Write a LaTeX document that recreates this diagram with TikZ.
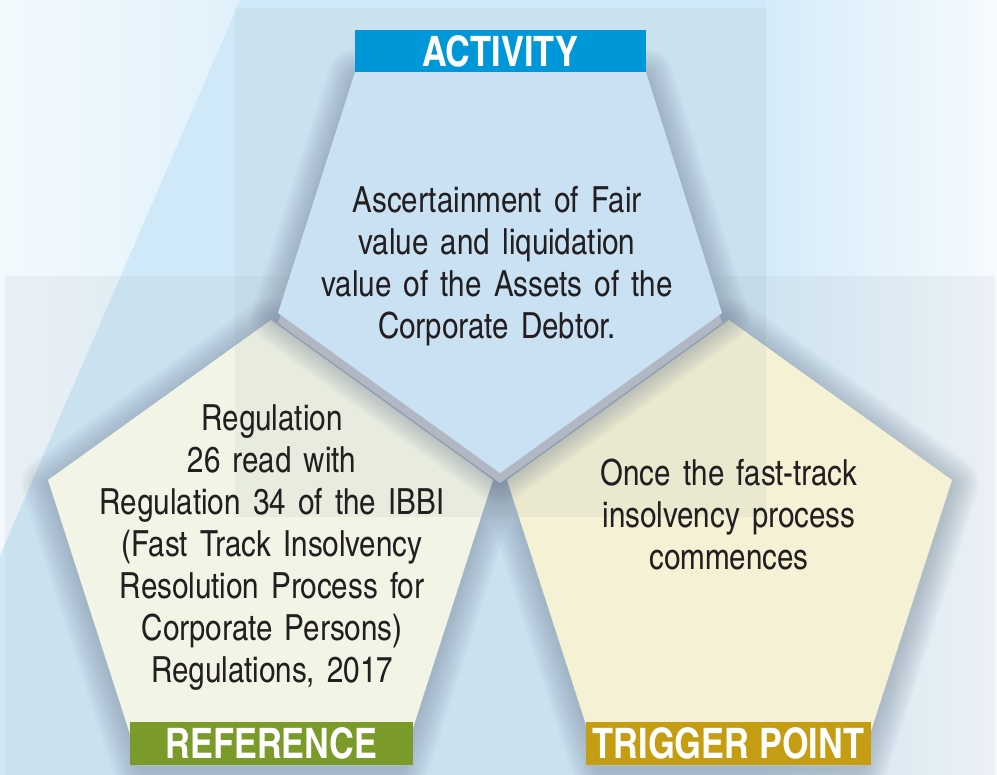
\documentclass[tikz,border=0pt]{standalone}
\usepackage{fontspec}
\setmainfont{texgyreheroscn}[Extension=.otf,UprightFont=*-regular,BoldFont=*-bold]
\newfontfamily\bodyfont{texgyreheroscn}[Extension=.otf,UprightFont=*-regular,WordSpace=1.5]

\definecolor{activityblue}{RGB}{0,151,217}
\definecolor{refgreen}{RGB}{122,154,42}
\definecolor{triggergold}{RGB}{197,157,18}
\definecolor{paneblue}{RGB}{201,225,243}
\definecolor{panegreen}{RGB}{253,255,237}
\definecolor{paneyellow}{RGB}{255,251,217}
\definecolor{skyblue}{RGB}{208,233,249}
\definecolor{inkgray}{RGB}{35,31,32}
\definecolor{veilgray}{RGB}{150,160,170}
\definecolor{castgray}{RGB}{178,184,195}
\definecolor{hazegray}{RGB}{110,125,145}

\tikzset{every picture/.style={line width=0.75pt}}
\tikzset{
  haze/.style={draw=hazegray,draw opacity=0.05,line join=round},
  veil/.style={fill=veilgray,fill opacity=0.1},
  bodytext/.style={align=center,text=inkgray,font=\bodyfont\fontsize{27}{31.5}\selectfont},
  tag/.style={text=white,font=\bfseries\fontsize{31.5}{31.5}\selectfont,inner sep=0pt,minimum height=32pt}
}

\begin{document}
\begin{tikzpicture}[x=0.75pt,y=0.75pt,yscale=-1,xscale=1]
\useasboundingbox (0,0) rectangle (997,775);

%Background
\fill[skyblue] (0,0) rectangle (997,775);
\shade[left color=white!75!skyblue,right color=white!35!skyblue] (0,0) -- (240,0) -- (0,555) -- cycle;
\shade[left color=skyblue!90!white,right color=white!80!skyblue] (766,0) rectangle (997,775);

%Lower panes
\foreach \w in {4,8,...,40}{
  \draw[haze,line width=\w] (271,324) -- (493,484) -- (401,769) -- (140,769) -- (48,484) -- cycle;
  \draw[haze,line width=\w] (729,324) -- (952,484) -- (860,769) -- (599,769) -- (507,484) -- cycle;
}
\fill[panegreen] (271,320) -- (493,480) -- (401,765) -- (140,765) -- (48,480) -- cycle;
\fill[paneyellow] (729,320) -- (952,480) -- (860,765) -- (599,765) -- (507,480) -- cycle;

%Veils
\fill[veil] (5,276) rectangle (995,775);
\fill[veil] (235,8) rectangle (766,517);

%Top pane with its cast
\foreach \w in {4,8,...,40}
  \draw[haze,line width=\w] (355,76) -- (646,76) -- (722,317) -- (500,477) -- (278,317) -- cycle;
\fill[castgray,shift={(0,10)}] (355,72) -- (646,72) -- (722,313) -- (500,473) -- (278,313) -- cycle;
\fill[paneblue] (355,72) -- (646,72) -- (722,313) -- (500,473) -- (278,313) -- cycle;

% Text Node
\node[bodytext] (activitytext) at (497,266) {Ascertainment of Fair\\value and liquidation\\value of the Assets of the\\Corporate Debtor.};
% Text Node
\node[bodytext] (referencetext) at (272,548) {Regulation\\26 read with\\Regulation 34 of the IBBI\\(Fast Track Insolvency\\Resolution Process for\\Corporate Persons)\\Regulations, 2017};
% Text Node
\node[bodytext] (triggertext) at (729,514) {Once the fast-track\\insolvency process\\commences};

%Tags
\node[tag,fill=activityblue,minimum width=218.25pt] (activitytag) at (500.5,51) {ACTIVITY};
\node[tag,fill=refgreen,minimum width=212.25pt] (referencetag) at (271.5,743.5) {REFERENCE};
\node[tag,fill=triggergold,minimum width=213.75pt] (triggertag) at (728.5,743.5) {TRIGGER POINT};

\end{tikzpicture}
\end{document}
